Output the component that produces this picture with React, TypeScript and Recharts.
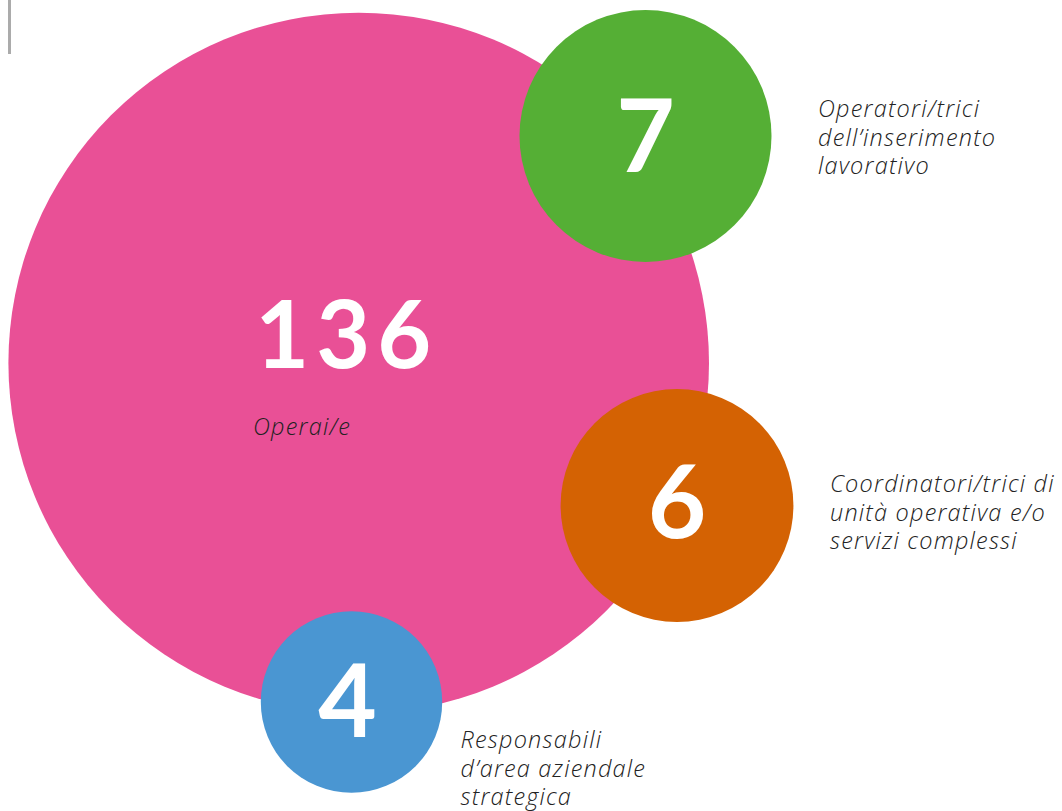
import React from 'react';
import { ScatterChart, Scatter, XAxis, YAxis, ZAxis, Cell } from 'recharts';

// Categories (line breaks mark how the label wraps)
const categories: string[] = [
  'Operai/e',
  'Operatori/trici\ndell’inserimento\nlavorativo',
  'Coordinatori/trici di\nunità operativa e/o\nservizi complessi',
  'Responsabili\nd’area aziendale\nstrategica',
];
// Headcount per category
const values: number[] = [136, 7, 6, 4];
// Bubble centres in the (hidden) chart coordinate space
const centerX: number[] = [358.7, 645.5, 677, 351.5];
const centerY: number[] = [363, 136, 505.5, 702];

const COLORS = ['#E95096', '#55AF35', '#D46203', '#4A96D2'];
const LAYOUT = [
  { numDx: -12, numDy: 5, numSize: 93, spacing: 7, labDx: -105.7, labDy: 72 },
  { numDx: 0, numDy: 36, numSize: 101, spacing: 0, labDx: 172.5, labDy: -19 },
  { numDx: 0, numDy: 32, numSize: 101, spacing: 0, labDx: 153, labDy: -13.5 },
  { numDx: -4, numDy: 35, numSize: 101, spacing: 0, labDx: 109, labDy: 46 },
];
const NUM_FONT = 'Lato, "Open Sans", sans-serif';
const LAB_FONT = '"Open Sans", Lato, sans-serif';
const LINE_H = 28.5;

const data = categories.map((name, i) => ({
  name,
  value: values[i],
  x: centerX[i],
  y: centerY[i],
  idx: i,
}));

const Bubble = (props: any) => {
  const { cx, cy, width, payload, fill } = props;
  const i = payload.idx;
  const lay = LAYOUT[i];
  const r = width / 2;
  const lines = String(payload.name).split('\n');
  return (
    <g>
      <circle cx={cx} cy={cy} r={r} fill={fill || COLORS[i]} />
      <text
        x={cx + lay.numDx}
        y={cy + lay.numDy}
        textAnchor="middle"
        fill="#ffffff"
        fontFamily={NUM_FONT}
        fontWeight={700}
        fontSize={lay.numSize}
        letterSpacing={lay.spacing}
      >
        {payload.value}
      </text>
      <text
        x={cx + lay.labDx}
        y={cy + lay.labDy}
        textAnchor="start"
        fill="#222222"
        fontFamily={LAB_FONT}
        fontStyle="italic"
        fontWeight={300}
        fontSize={23.5}
        letterSpacing={1.2}
      >
        {lines.map((ln, k) => (
          <tspan key={k} x={cx + lay.labDx} y={cy + lay.labDy + k * LINE_H}>
            {ln}
          </tspan>
        ))}
      </text>
    </g>
  );
};

export default function App() {
  return (
    <div style={{ position: 'absolute', left: 0, top: 0, width: 1062, height: 811, background: '#ffffff' }}>
      <div
        style={{ position: 'absolute', left: 8, top: 0, width: 3, height: 54, background: '#ababab' }}
      />
      <ScatterChart width={1062} height={811} margin={{ top: 0, right: 0, bottom: 0, left: 0 }}>
        <XAxis type="number" dataKey="x" domain={[0, 1062]} hide />
        <YAxis type="number" dataKey="y" domain={[0, 811]} reversed hide />
        <ZAxis
          type="number"
          dataKey="value"
          scale="sqrt"
          domain={[4, 136]}
          range={[Math.PI * 90.7 * 90.7, Math.PI * 350.3 * 350.3]}
        />
        <Scatter data={data} shape={Bubble} isAnimationActive={false}>
          {data.map((d, i) => (
            <Cell key={d.name} fill={COLORS[i]} />
          ))}
        </Scatter>
      </ScatterChart>
    </div>
  );
}
